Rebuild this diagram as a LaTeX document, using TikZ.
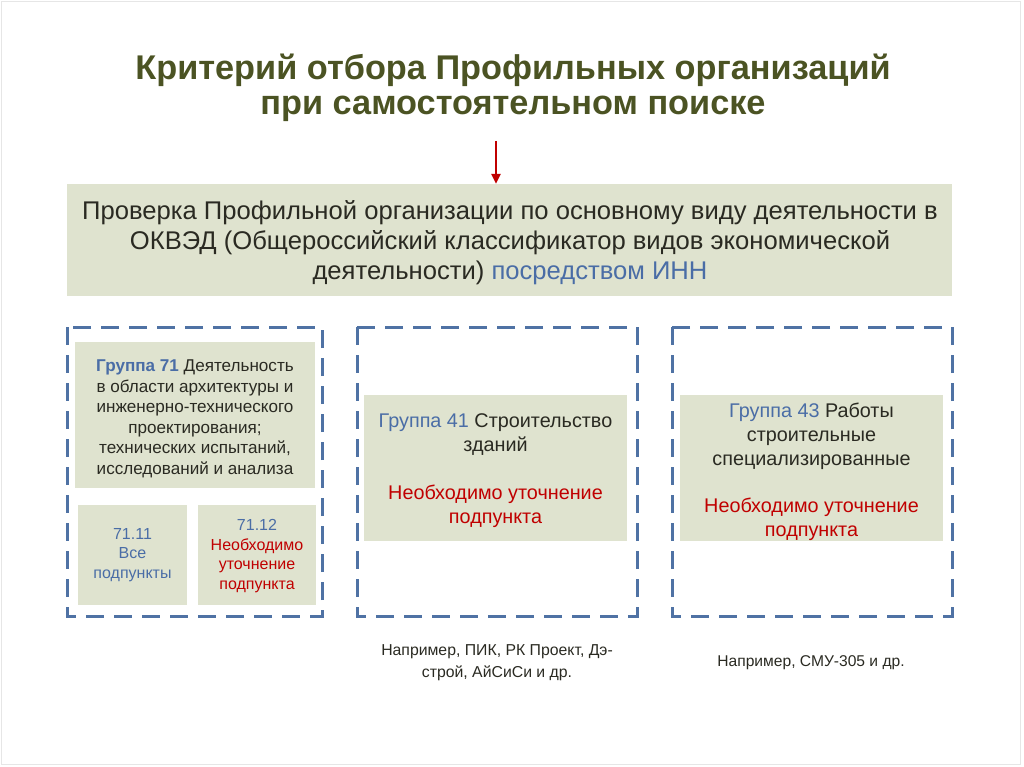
\documentclass[tikz,border=0pt]{standalone}
\usepackage{fontspec}
\setmainfont{Liberation Sans}
\usetikzlibrary{arrows.meta}
\definecolor{titlecol}{HTML}{4B5323}
\definecolor{fillcol}{HTML}{DFE3CF}
\definecolor{dashcol}{HTML}{4F72A4}
\definecolor{bluetxt}{HTML}{4A6DA6}
\definecolor{redtxt}{HTML}{C00000}
\definecolor{darktxt}{HTML}{2A2A22}
\definecolor{framecol}{HTML}{E6E6E6}
\tikzset{
  fillbox/.style={fill=fillcol, draw=none, inner sep=0pt},
  dashbox/.style={draw=dashcol, line width=3pt, dash pattern=on 18pt off 10pt},
  txt/.style={align=center, inner sep=0pt, text=darktxt},
}
\begin{document}
\begin{tikzpicture}[x=1pt,y=-1pt]
\useasboundingbox (0,0) rectangle (1024,767);
\draw[framecol, line width=1pt] (1.5,1.5) rectangle (1020.5,764.5);
% title
\node[txt, text=titlecol, font=\fontsize{34.3}{35}\selectfont\bfseries] (title) at (513,88)
  {Критерий отбора Профильных организаций\\при самостоятельном поиске};
% main box
\node[fillbox, minimum width=885pt, minimum height=112pt] (main) at (509.5,240) {};
\node[txt, font=\fontsize{25.6}{30}\selectfont] (maintxt) at (510,243)
  {Проверка Профильной организации по основному виду деятельности в\\
   ОКВЭД (Общероссийский классификатор видов экономической\\
   деятельности) \textcolor{bluetxt}{посредством ИНН}};
\coordinate (arrtop) at (496,141);
\draw[redtxt, line width=2.5pt, -{Triangle[length=10pt,width=9pt]}] (arrtop) -- (main.north -| arrtop);
% dashed boxes
\draw[dashbox] (67,327) rectangle (322,616);
\draw[dashbox] (357,327) rectangle (637,616);
\draw[dashbox] (672,327) rectangle (952,616);
% group 71
\node[fillbox, minimum width=240pt, minimum height=146pt] (g71) at (195,415) {};
\node[txt, font=\fontsize{17.1}{20.5}\selectfont] (g71txt) at (195,419)
  {\textcolor{bluetxt}{\bfseries Группа 71} Деятельность\\
   в области архитектуры и\\ инженерно-технического\\ проектирования;\\
   технических испытаний,\\ исследований и анализа};
\node[fillbox, minimum width=109pt, minimum height=100pt] (s1) at (132.5,555) {};
\node[txt, text=bluetxt, font=\fontsize{16}{19.5}\selectfont] (s1txt) at (132.5,555)
  {71.11\\Все\\подпункты};
\node[fillbox, minimum width=118pt, minimum height=100pt] (s2) at (257,555) {};
\node[txt, font=\fontsize{16}{19.5}\selectfont] (s2txt) at (257,556)
  {\textcolor{bluetxt}{71.12}\\\textcolor{redtxt}{Необходимо}\\\textcolor{redtxt}{уточнение}\\\textcolor{redtxt}{подпункта}};
% group 41
\node[fillbox, minimum width=263pt, minimum height=146pt] (g41) at (495.5,468) {};
\node[txt, font=\fontsize{19.8}{24}\selectfont] (g41txt) at (495.5,471)
  {\textcolor{bluetxt}{Группа 41} Строительство\\ зданий\\[24pt]
   \textcolor{redtxt}{Необходимо уточнение}\\ \textcolor{redtxt}{подпункта}};
% group 43
\node[fillbox, minimum width=263pt, minimum height=146pt] (g43) at (811.5,468) {};
\node[txt, font=\fontsize{19.8}{24}\selectfont] (g43txt) at (811.5,471.5)
  {\textcolor{bluetxt}{Группа 43} Работы\\ строительные\\ специализированные\\[23pt]
   \textcolor{redtxt}{Необходимо уточнение}\\ \textcolor{redtxt}{подпункта}};
% captions
\node[txt, font=\fontsize{15.8}{22}\selectfont] (cap1) at (497,663)
  {Например, ПИК, РК Проект, Дэ-\\строй, АйСиСи и др.};
\node[txt, font=\fontsize{15.6}{22}\selectfont] (cap2) at (811,663)
  {Например, СМУ-305 и др.};
\end{tikzpicture}
\end{document}
